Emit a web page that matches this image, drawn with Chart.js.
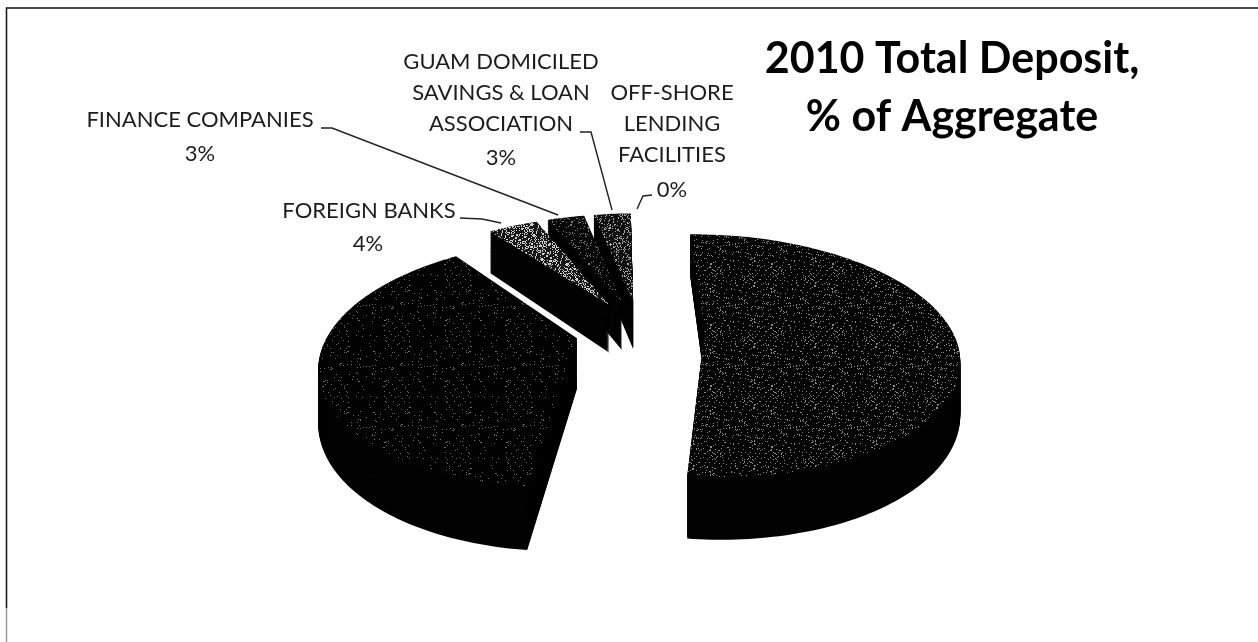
<!DOCTYPE html>
<html>
<head>
<meta charset="utf-8">
<title>2010 Total Deposit</title>
<script src="https://cdn.jsdelivr.net/npm/chart.js@4"></script>
<style>
  html, body { margin: 0; padding: 0; background: #fefefe; }
  #wrap { position: relative; width: 1258px; height: 642px; }
  canvas { display: block; }
</style>
</head>
<body>
<div id="wrap"><canvas id="deposits" width="1258" height="642"></canvas></div>
<script>
const categories = [
  "NATIONAL & STATE BANKS",
  "GUAM DOMICILED BANKS",
  "FOREIGN BANKS",
  "FINANCE COMPANIES",
  "GUAM DOMICILED SAVINGS & LOAN ASSOCIATION",
  "OFF-SHORE LENDING FACILITIES"
]
const shares = [52, 38, 4, 3, 3, 0]
const titleLines = ["2010 Total Deposit,", "% of Aggregate"]

// base colour, dot colour and dot density (out of 61) of the printed stipple, per slice
const baseColors = ["#050505", "#020202", "#161616", "#080808", "#101010", "#101010"]
const dotColors = ["#8c8c8c", "#6c6c6c", "#d0d0d0", "#7c7c7c", "#a8a8a8", "#a8a8a8"]
const dotDensity = [6, 3, 19, 7, 13, 13]

// labels outside the pie: which slice, text lines, centre x, first baseline, then the % position
const callouts = [
  { slice: 2, lines: ["FOREIGN BANKS"], x: 369, y: 218, pctX: 368, pctY: 251 },
  { slice: 3, lines: ["FINANCE COMPANIES"], x: 200, y: 127, pctX: 200, pctY: 161 },
  { slice: 4, lines: ["GUAM DOMICILED", "SAVINGS & LOAN", "ASSOCIATION"], x: 501, y: 69, pctX: 501, pctY: 165 },
  { slice: 5, lines: ["OFF-SHORE", "LENDING", "FACILITIES"], x: 672, y: 100, pctX: 672, pctY: 197 }
]
const leaders = [
  [[460, 218], [482, 219], [501, 223]],
  [[321, 128], [332, 128], [558, 215]],
  [[580, 132], [591, 132], [612, 210]],
  [[652, 195], [643, 196], [637, 209]]
]

// view of the pie plane: horizontal and vertical stretch, perspective, wall height
const view = { sx: 0.895, sy: 0.42, k: 0.2, depth: 50 }

function stipple(base, dot, density) {
  const size = 61
  const tile = document.createElement("canvas")
  tile.width = tile.height = size
  const g = tile.getContext("2d")
  g.fillStyle = base
  g.fillRect(0, 0, size, size)
  g.fillStyle = dot
  for (let y = 0; y < size; y++) {
    for (let x = 0; x < size; x++) {
      if ((x * x * 7 + y * y * 11 + x * y * 3) % size < density) g.fillRect(x, y, 1, 1)
    }
  }
  return g.createPattern(tile, "repeat")
}

const fills = baseColors.map((c, i) => stipple(c, dotColors[i], dotDensity[i]))

// draws the arcs of the pie controller as thick slices seen in perspective
const pie3d = {
  id: "pie3d",
  beforeDatasetsDraw(chart) {
    const { ctx } = chart
    const arcs = chart.getDatasetMeta(0).data
    const order = arcs.map((_, i) => i).sort((a, b) => b - a)

    order.forEach(i => {
      const arc = arcs[i]
      const { x, y, startAngle, endAngle, outerRadius } = arc.getProps(
        ["x", "y", "startAngle", "endAngle", "outerRadius"], true)
      if (endAngle - startAngle < 0.001) return

      const mid = (startAngle + endAngle) / 2
      const push = arc.options.offset / outerRadius
      const u0 = Math.cos(mid) * push
      const v0 = Math.sin(mid) * push

      const project = (u, v, h) => {
        const w = 1 - view.k * v
        return [
          x + outerRadius * view.sx * u / w,
          y + outerRadius * view.sy * v / w + h * view.depth / w
        ]
      }
      const tracePath = h => {
        ctx.beginPath()
        let p = project(u0, v0, h)
        ctx.moveTo(p[0], p[1])
        const steps = Math.ceil((endAngle - startAngle) / 0.02)
        for (let s = 0; s <= steps; s++) {
          const a = startAngle + (endAngle - startAngle) * s / steps
          p = project(u0 + Math.cos(a), v0 + Math.sin(a), h)
          ctx.lineTo(p[0], p[1])
        }
        ctx.closePath()
      }

      ctx.save()
      // wall: stacked copies from the bottom up
      ctx.fillStyle = "#020202"
      for (let h = 1; h > 0; h -= 0.02) {
        tracePath(h)
        ctx.fill()
      }
      tracePath(0)
      ctx.fillStyle = arc.options.backgroundColor
      ctx.fill()
      ctx.restore()
    })
    return false
  },
  afterDraw(chart) {
    const { ctx } = chart
    ctx.save()

    // frame of the chart area, top and left edges only
    ctx.strokeStyle = "#111"
    ctx.lineWidth = 1.5
    ctx.beginPath()
    ctx.moveTo(1258, 8)
    ctx.lineTo(6.5, 8)
    ctx.lineTo(6.5, 608)
    ctx.stroke()
    ctx.strokeStyle = "#999"
    ctx.beginPath()
    ctx.moveTo(6.5, 608)
    ctx.lineTo(6.5, 642)
    ctx.stroke()

    // leader lines
    ctx.strokeStyle = "#222"
    ctx.lineWidth = 1.4
    leaders.forEach(pts => {
      ctx.beginPath()
      pts.forEach((p, i) => i ? ctx.lineTo(p[0], p[1]) : ctx.moveTo(p[0], p[1]))
      ctx.stroke()
    })

    ctx.fillStyle = "#1c1c1c"
    ctx.textAlign = "center"
    ctx.font = "22px Lato"
    callouts.forEach(c => {
      c.lines.forEach((line, i) => ctx.fillText(line, c.x, c.y + i * 31))
      ctx.fillText(shares[c.slice] + "%", c.pctX, c.pctY)
    })

    ctx.fillStyle = "#000"
    ctx.font = "bold 43px Lato"
    titleLines.forEach((line, i) => ctx.fillText(line, 952, 73 + i * 58))
    ctx.restore()
  }
}

new Chart(document.getElementById("deposits"), {
  type: "pie",
  data: {
    labels: categories,
    datasets: [{
      data: shares,
      backgroundColor: fills,
      borderWidth: 0,
      offset: 72
    }]
  },
  options: {
    responsive: false,
    animation: false,
    rotation: -1,
    layout: { padding: { left: 22, top: 18 } },
    plugins: {
      legend: { display: false },
      tooltip: { enabled: false }
    }
  },
  plugins: [pie3d]
})
</script>
</body>
</html>
